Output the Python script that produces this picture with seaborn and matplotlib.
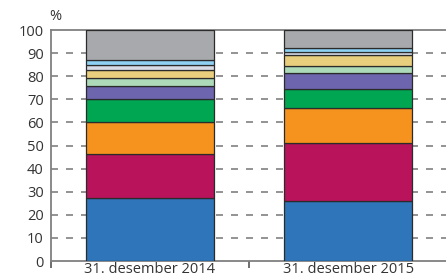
import numpy as np
import pandas as pd
import matplotlib
matplotlib.use("Agg")
import matplotlib.pyplot as plt
import seaborn as sns

# Data: share (%) of each segment, bottom to top
dates = ["31. desember 2014", "31. desember 2015"]
seg_blue = [27.4, 26.1]
seg_crimson = [19.0, 24.9]
seg_orange = [14.0, 15.2]
seg_green = [9.7, 8.5]
seg_purple = [5.7, 6.6]
seg_lightgreen = [3.6, 3.2]
seg_yellow = [3.4, 4.8]
seg_lavender = [2.1, 1.4]
seg_lightblue = [2.2, 1.5]
seg_gray = [12.9, 7.8]

segments = [seg_blue, seg_crimson, seg_orange, seg_green, seg_purple,
            seg_lightgreen, seg_yellow, seg_lavender, seg_lightblue, seg_gray]
colors = ["#2E75B9", "#B8135B", "#F6921E", "#00A651", "#6D65AE",
          "#ADDAB9", "#E9CE7D", "#D8DCE6", "#8ED1F2", "#A7A9AC"]

sns.set_style("white")
plt.rcParams['font.family'] = ['Open Sans', 'DejaVu Sans']

fig = plt.figure(figsize=(4.46, 2.79), dpi=100)
ax = fig.add_axes([0.1137, 0.0645, 0.89, 0.8275])

# stacked bars, one call per segment
bottom = np.zeros(len(dates))
for vals, col in zip(segments, colors):
    df = pd.DataFrame({"date": dates, "value": vals})
    sns.barplot(data=df, x="date", y="value", color=col, bottom=bottom,
                width=0.645, edgecolor="#2b2b2b", linewidth=0.9,
                saturation=1, ax=ax, zorder=3)
    bottom = bottom + np.array(vals)

ax.set_xlim(-0.5, 1.5)
ax.set_ylim(0, 100)
ax.set_yticks(np.arange(0, 101, 10))
for y in range(10, 100, 10):
    ax.axhline(y, color="#808080", lw=1.2, ls=(0, (4.2, 4.8)), zorder=1)

ax.set_xlabel("")
ax.set_ylabel("")
ax.set_xticks([0, 1])
ax.set_xticklabels(dates)
ax.set_xticks([-0.5, 0.5, 1.5], minor=True)
ax.tick_params(axis="x", which="major", length=0, pad=1, labelsize=10.5, labelcolor="#333333")
ax.tick_params(axis="x", which="minor", length=5, width=1.2, color="#555555", direction="out", bottom=True)
ax.tick_params(axis="y", length=0, pad=5, labelsize=10.5, labelcolor="#333333")

for side in ["left", "bottom", "top"]:
    ax.spines[side].set_visible(True)
    ax.spines[side].set_color("#808080")
    ax.spines[side].set_linewidth(1.3)
ax.spines["right"].set_visible(False)

fig.text(0.123, 0.915, "%", fontsize=10.5, color="#333333", ha="center", va="bottom")

fig.savefig("out.png", dpi=100)
